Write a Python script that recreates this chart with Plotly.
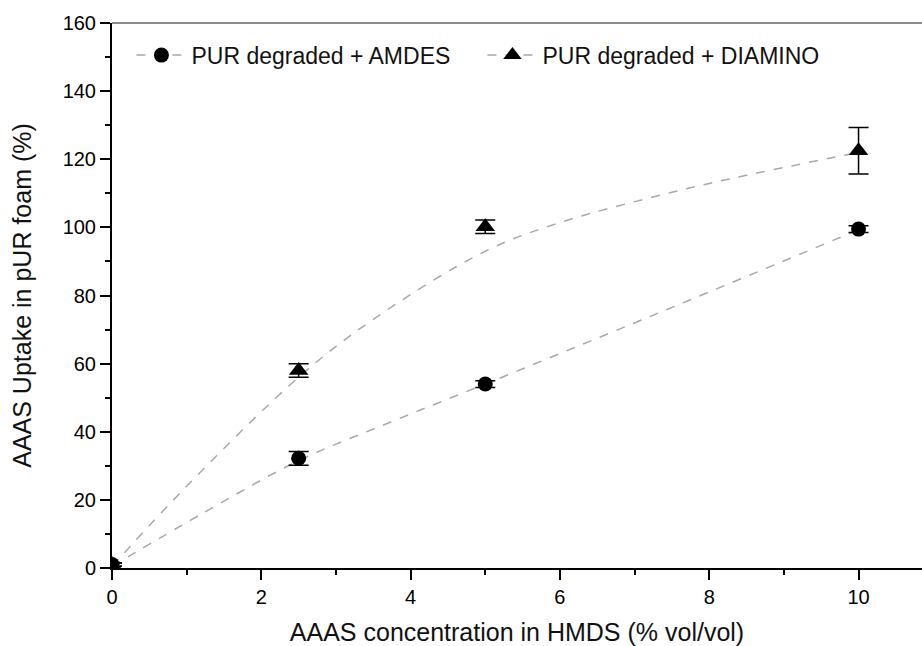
import plotly.graph_objects as go

# --- data ---
conc = [0, 2.5, 5, 10]
amdes = [1.0, 32.2, 54.0, 99.5]
amdes_err = [0.5, 2.0, 1.0, 1.0]
diamino = [1.0, 58.0, 100.2, 122.5]
diamino_err = [0.5, 2.0, 2.0, 6.8]

# fitted trend curves
fit_amdes_x = [0, 1.25, 2.5, 3.75, 5, 7.5, 10]
fit_amdes_y = [0.5, 16.5, 31.5, 43.0, 54.0, 76.5, 99.3]
fit_diamino_x = [0, 1, 2.5, 3.5, 5, 6, 7.5, 8.5, 10]
fit_diamino_y = [0.5, 24.0, 56.0, 73.0, 93.0, 101.4, 110.3, 115.3, 122.0]

x_ticks = [0, 2, 4, 6, 8, 10]
y_ticks = [0, 20, 40, 60, 80, 100, 120, 140, 160]

FONT = "Liberation Sans, Arial, sans-serif"
fit_line = dict(color="#a8a8a8", width=1.5, dash="dash")

fig = go.Figure()
fig.add_trace(go.Scatter(x=fit_amdes_x, y=fit_amdes_y, mode="lines",
                         line=dict(shape="spline", **fit_line), showlegend=False, hoverinfo="skip"))
fig.add_trace(go.Scatter(x=fit_diamino_x, y=fit_diamino_y, mode="lines",
                         line=dict(shape="spline", **fit_line), showlegend=False, hoverinfo="skip"))

fig.add_trace(go.Scatter(x=conc, y=amdes, mode="markers", showlegend=False,
                         marker=dict(symbol="circle", size=15, color="black"),
                         error_y=dict(type="data", array=amdes_err, color="black", thickness=1.5, width=10)))
fig.add_trace(go.Scatter(x=conc, y=diamino, mode="markers", showlegend=False,
                         marker=dict(symbol="triangle-up", size=17, color="black"),
                         error_y=dict(type="data", array=diamino_err, color="black", thickness=1.5, width=10)))

# legend entries
fig.add_trace(go.Scatter(x=[None], y=[None], mode="lines+markers", name="PUR degraded + AMDES",
                         line=fit_line, marker=dict(symbol="circle", size=15, color="black")))
fig.add_trace(go.Scatter(x=[None], y=[None], mode="lines+markers", name="PUR degraded + DIAMINO",
                         line=fit_line, marker=dict(symbol="triangle-up", size=17, color="black")))

axis_common = dict(showgrid=False, zeroline=False, showline=True, linecolor="black", linewidth=2,
                   ticks="outside", ticklen=10, tickwidth=1.5, tickcolor="black",
                   tickfont=dict(family=FONT, size=20, color="black"))

fig.update_xaxes(range=[0, 10.85], tickvals=x_ticks, ticktext=[str(v) for v in x_ticks],
                 minor=dict(dtick=1, tick0=0, ticks="outside", ticklen=5, tickwidth=1.5, tickcolor="black"),
                 title=dict(text="AAAS concentration in HMDS (% vol/vol)",
                            font=dict(family=FONT, size=25, color="#111"), standoff=16),
                 **axis_common)
fig.update_yaxes(range=[0, 160], tickvals=y_ticks, ticktext=[str(v) for v in y_ticks],
                 minor=dict(dtick=10, tick0=0, ticks="outside", ticklen=5, tickwidth=1.5, tickcolor="black"),
                 title=dict(text="AAAS Uptake in pUR foam (%)",
                            font=dict(family=FONT, size=25, color="#111"), standoff=24),
                 **axis_common)

fig.add_shape(type="line", xref="paper", yref="paper", x0=0, x1=1, y0=1, y1=1,
              line=dict(color="#666666", width=1.5))

fig.update_layout(
    width=922, height=646,
    margin=dict(l=112, r=0, t=23, b=78),
    plot_bgcolor="white", paper_bgcolor="white",
    font=dict(family=FONT, color="black"),
    legend=dict(orientation="h", x=0.024, y=0.941, xanchor="left", yanchor="middle",
                font=dict(family=FONT, size=23, color="#111"),
                bgcolor="rgba(0,0,0,0)", itemwidth=50,
                entrywidth=286, entrywidthmode="pixels"),
)

fig.write_html("out.html", config={"displayModeBar": False},
               post_script="document.body.style.margin='0';document.body.style.padding='0';")
